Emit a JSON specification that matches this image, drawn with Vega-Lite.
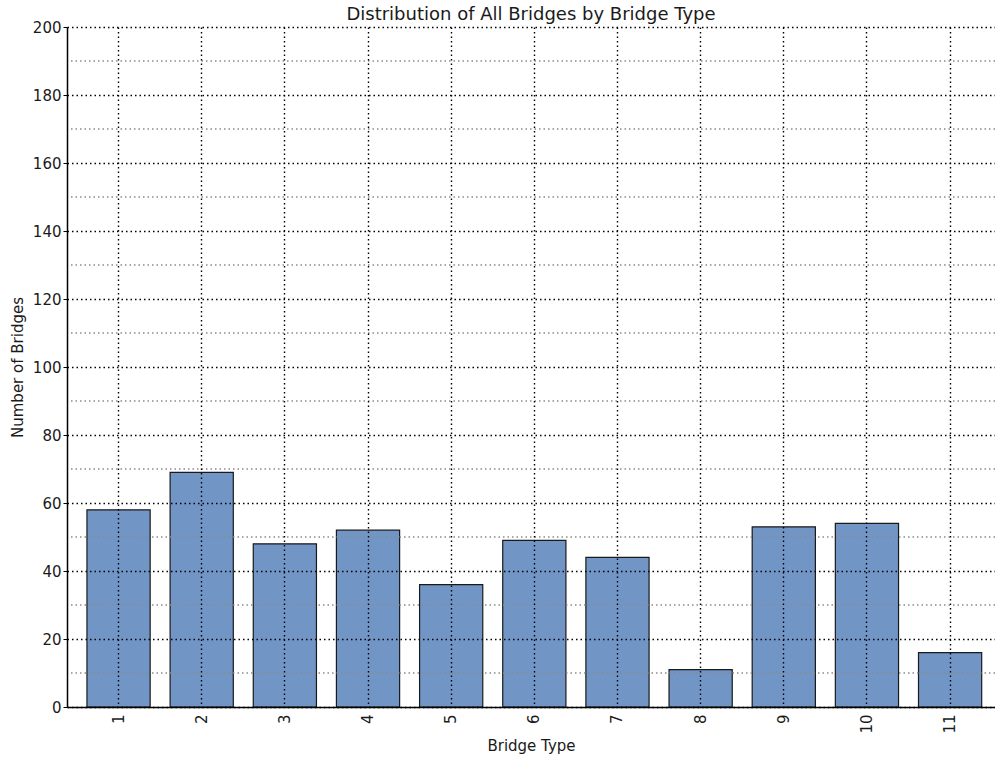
{
  "$schema": "https://vega.github.io/schema/vega-lite/v6.json",
  "width": 928,
  "height": 680,
  "autosize": {"type": "none"},
  "padding": {"left": 67, "top": 27, "right": 0, "bottom": 50},
  "background": "white",
  "config": {
    "view": {"stroke": null},
    "font": "DejaVu Sans",
    "axis": {"labelFont": "DejaVu Sans", "titleFont": "DejaVu Sans", "labelColor": "#1a1a1a", "titleColor": "#1a1a1a", "labelFontWeight": "normal", "titleFontWeight": "normal"}
  },
  "title": {"text": "Distribution of All Bridges by Bridge Type", "fontSize": 18, "font": "DejaVu Sans", "fontWeight": "normal", "color": "#1a1a1a", "anchor": "middle", "offset": -4},
  "layer": [
    {
      "data": {"values": [
        {"type": "1", "count": 58},
        {"type": "2", "count": 69},
        {"type": "3", "count": 48},
        {"type": "4", "count": 52},
        {"type": "5", "count": 36},
        {"type": "6", "count": 49},
        {"type": "7", "count": 44},
        {"type": "8", "count": 11},
        {"type": "9", "count": 53},
        {"type": "10", "count": 54},
        {"type": "11", "count": 16}
      ]},
      "mark": {"type": "bar", "color": "#7195c5", "stroke": "#1a1a1a", "strokeWidth": 1.2},
      "encoding": {
        "x": {
          "field": "type", "type": "ordinal", "sort": null,
          "scale": {"paddingInner": 0.24, "paddingOuter": 0.2, "align": 0.6},
          "axis": {
            "title": "Bridge Type", "titleFontSize": 15, "titlePadding": 5,
            "labelAngle": -90, "labelFontSize": 15, "labelPadding": 7,
            "domainColor": "black", "domainWidth": 1.5,
            "tickColor": "black", "tickSize": 0,
            "grid": true, "gridColor": "black", "gridDash": [1.5, 3], "gridWidth": 1.4,
            "zindex": 1
          }
        },
        "y": {
          "field": "count", "type": "quantitative",
          "scale": {"domain": [0, 200], "nice": false},
          "title": "Number of Bridges",
          "axis": {
            "title": "Number of Bridges", "titleFontSize": 15, "titlePadding": 7,
            "values": [0, 20, 40, 60, 80, 100, 120, 140, 160, 180, 200],
            "labelFontSize": 15, "labelPadding": 2,
            "domainColor": "black", "domainWidth": 1.5,
            "tickColor": "black", "tickSize": 4,
            "grid": true, "gridColor": "black",
            "gridDash": [1.5, 3], "gridWidth": 1.4,
            "zindex": 1
          }
        }
      }
    },
    {
      "data": {"values": [
        {"minor": 10}, {"minor": 30}, {"minor": 50}, {"minor": 70}, {"minor": 90},
        {"minor": 110}, {"minor": 130}, {"minor": 150}, {"minor": 170}, {"minor": 190}
      ]},
      "mark": {"type": "rule", "color": "#8a8a8a", "strokeWidth": 1.4, "strokeDash": [1.5, 3]},
      "encoding": {"y": {"field": "minor", "type": "quantitative", "title": "Number of Bridges"}}
    },
    {
      "mark": {"type": "rule", "color": "black", "strokeWidth": 1.5},
      "encoding": {"y": {"datum": 200}}
    }
  ]
}
